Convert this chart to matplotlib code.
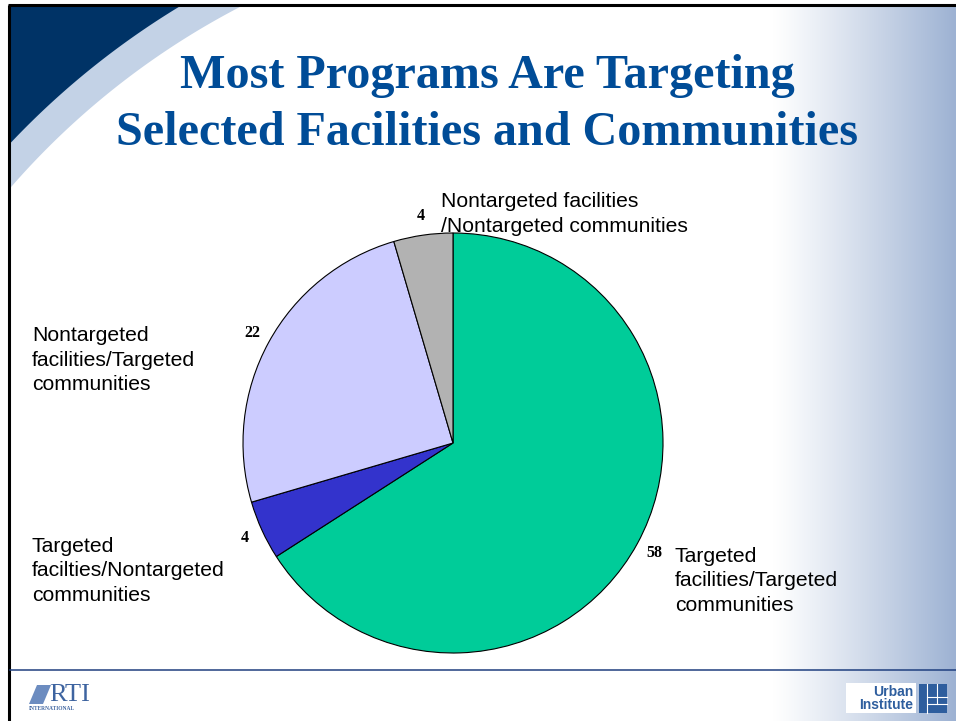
import numpy as np
import matplotlib.pyplot as plt
from matplotlib.patches import Polygon, Rectangle

# chart data
categories = [
    "Targeted\nfacilities/Targeted\ncommunities",
    "Targeted\nfacilties/Nontargeted\ncommunities",
    "Nontargeted\nfacilities/Targeted\ncommunities",
    "Nontargeted facilities\n/Nontargeted communities",
]
values = [58, 4, 22, 4]
colors = ["#00CC99", "#3333CC", "#CCCCFF", "#B2B2B2"]

title_lines = ["Most Programs Are Targeting", "Selected Facilities and Communities"]

W, H = 956, 721
fig = plt.figure(figsize=(W / 100, H / 100), dpi=100)
fig.patch.set_facecolor("white")

# background axes in pixel coordinates (y down)
bg = fig.add_axes([0, 0, 1, 1])
bg.set_axis_off()

# right side gradient
grad = np.linspace(0, 1, 256) ** 1.1
c0 = np.array([1.0, 1.0, 1.0])
c1 = np.array([157, 178, 211]) / 255
img = c0[None, :] * (1 - grad[:, None]) + c1[None, :] * grad[:, None]
bg.imshow(img[None, :, :], extent=(773, W, H, 5), aspect="auto", zorder=0)

# top-left swoosh
cx, cy = 600, 700


def arc_poly(R):
    a0 = np.arctan2(5 - cy, -np.sqrt(R**2 - (5 - cy) ** 2))
    a1 = np.arctan2(-np.sqrt(R**2 - (9 - cx) ** 2), 9 - cx)
    t = np.linspace(a1, a0, 80)
    pts = np.column_stack([cx + R * np.cos(t), cy + R * np.sin(t)])
    return np.vstack([[[9, 5]], pts])


bg.add_patch(Polygon(arc_poly(781), closed=True, facecolor="#C3D2E6", edgecolor="none", zorder=1))
bg.add_patch(Polygon(arc_poly(811), closed=True, facecolor="#003366", edgecolor="none", zorder=2))

# slide frame lines
bg.plot([8, W], [5, 5], color="black", lw=2.2, zorder=3, solid_capstyle="butt")
bg.plot([9, 9], [5, H], color="black", lw=2.2, zorder=3, solid_capstyle="butt")
bg.plot([10, W], [670, 670], color="#1F3F7F", lw=1.1, zorder=3)

# title
for i, line in enumerate(title_lines):
    bg.text(487, 76 + i * 57, line, ha="center", va="center",
            fontsize=34.7, fontweight="bold", family="Liberation Serif",
            color="#004C97", zorder=4)

# category labels
label_pos = [(675, 581), (32, 571), (32, 360), (441, 214)]
for lab, (x, y) in zip(categories, label_pos):
    bg.text(x, y, lab, ha="left", va="center", fontsize=15.2,
            family="Liberation Sans", linespacing=1.38, color="black", zorder=4)

# RTI logo
bg.add_patch(Polygon([[29, 704], [37, 685], [51, 685], [43, 704]], closed=True,
                     facecolor="#6C8CC0", edgecolor="none", zorder=4))
bg.text(49, 695, "RTI", ha="left", va="center", fontsize=19,
        family="Liberation Serif", color="#3E64A0", zorder=4)
bg.text(29, 709, "INTERNATIONAL", ha="left", va="center", fontsize=4,
        family="Liberation Serif", fontweight="bold", color="#3E64A0", zorder=4)

# Urban Institute logo
bg.add_patch(Rectangle((846, 683), 70, 30, facecolor="white", edgecolor="none", zorder=4))
bg.text(913, 692, "Urban", ha="right", va="center", fontsize=10, fontweight="bold",
        family="Liberation Sans", color="#2E5E9E", zorder=5)
bg.text(913, 705, "Institute", ha="right", va="center", fontsize=10, fontweight="bold",
        family="Liberation Sans", color="#2E5E9E", zorder=5)
bg.add_patch(Rectangle((919, 684), 28, 29, facecolor="#2E5E9E", edgecolor="none", zorder=5))
bg.plot([927, 927], [684, 713], color="white", lw=0.8, zorder=6)
bg.plot([937, 937], [684, 704], color="white", lw=0.8, zorder=6)
bg.plot([927, 947], [697, 697], color="white", lw=0.8, zorder=6)
bg.plot([927, 947], [704, 704], color="white", lw=0.8, zorder=6)

bg.set_xlim(0, W)
bg.set_ylim(H, 0)

# pie axes: center (453, 443), radius 210 px
r = 210
pax = fig.add_axes([(453 - r) / W, (H - 443 - r) / H, 2 * r / W, 2 * r / H])
total = sum(values)
wedges, texts, autotexts = pax.pie(
    values, colors=colors, startangle=90, counterclock=False,
    autopct=lambda p: f"{round(p * total / 100)}", pctdistance=1.09,
    wedgeprops=dict(edgecolor="black", linewidth=0.8),
)
for t in autotexts:
    t.set_fontsize(11.5)
    t.set_fontweight("bold")
    t.set_family("Liberation Serif")
pax.set_xlim(-1, 1)
pax.set_ylim(-1, 1)
pax.set_aspect("equal")

fig.savefig("out.png", dpi=100)
